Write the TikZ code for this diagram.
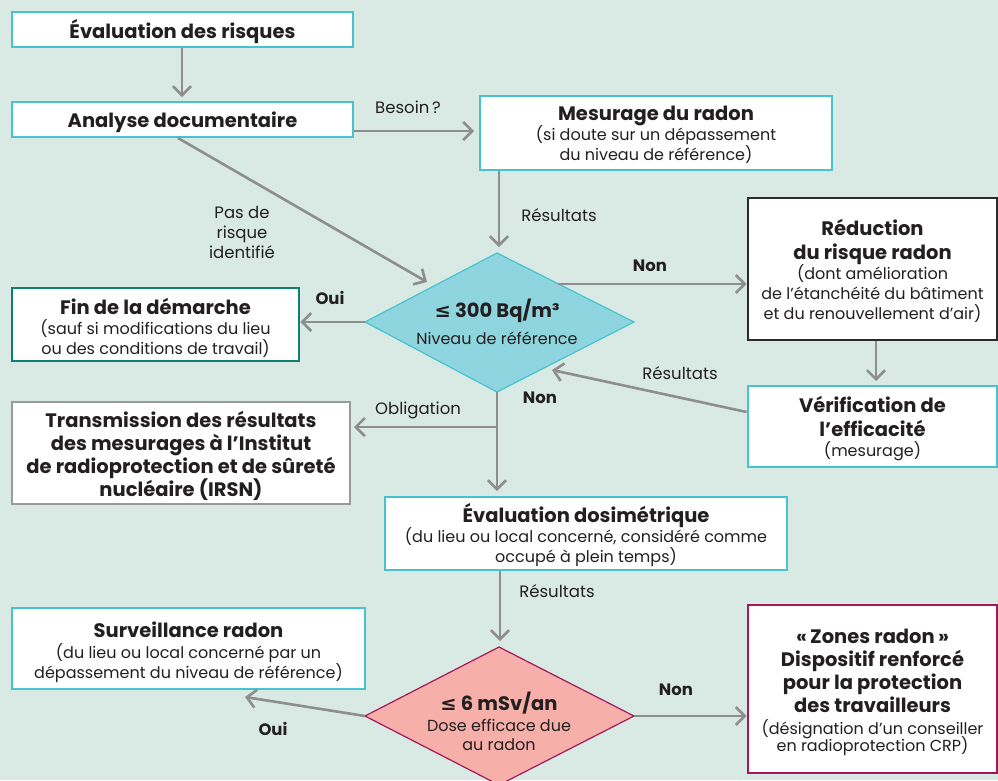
\documentclass[tikz,border=0pt]{standalone}
\usepackage{fontspec}
\setmainfont{Poppins}
\newfontfamily\symfont{DejaVu Sans}
\usetikzlibrary{arrows.meta}
\definecolor{bg}{HTML}{D9EAE4}
\definecolor{cyanb}{HTML}{45C4D0}
\definecolor{tealb}{HTML}{0E7F78}
\definecolor{grayb}{HTML}{9A9A9A}
\definecolor{blackb}{HTML}{2B2B2B}
\definecolor{magb}{HTML}{A3185C}
\definecolor{arr}{HTML}{8E8E8E}
\definecolor{txt}{HTML}{231F20}
\definecolor{dia1}{HTML}{8FD5DF}
\definecolor{dia2}{HTML}{F6AFA9}
\newcommand{\tb}[1]{{\fontsize{19.5}{20}\selectfont\bfseries #1}}
\newcommand{\tr}[1]{{\fontsize{16}{20}\selectfont #1}}
\newcommand{\tightlines}{\lineskiplimit=-30pt\relax\lineskip=0pt\relax}
\begin{document}
\begin{tikzpicture}[x=1pt,y=-1pt,
  box/.style={draw=#1,line width=2.8pt,fill=white,inner sep=0pt},
  boxtext/.style={inner sep=0pt,align=center,text=txt,font=\fontsize{16}{20}\selectfont\tightlines},
  conn/.style={draw=arr,line width=2.6pt,-{Straight Barb[length=9pt,width=18pt,line width=2.6pt]}},
  lab/.style={text=txt,font=\fontsize{16.5}{20}\selectfont,inner sep=0pt,align=center},
  blab/.style={text=txt,font=\fontsize{16.5}{20}\selectfont\bfseries,inner sep=0pt}]
\fill[bg] (0,0) rectangle (998,780);
\useasboundingbox (0,0) rectangle (998,780);
% boxes
\node[box=cyanb,minimum width=341pt,minimum height=35pt] (eval) at (182.5,29.5) {};
\node[boxtext] (evalt) at (182.5,32) {\tb{Évaluation des risques}};
\node[box=cyanb,minimum width=341pt,minimum height=35pt] (anal) at (182.5,119.5) {};
\node[boxtext] (analt) at (182.5,122) {\tb{Analyse documentaire}};
\node[box=cyanb,minimum width=352pt,minimum height=74pt] (mes) at (656,133) {};
\node[boxtext] (mest) at (656,135) {\tb{Mesurage du radon}\\\tr{(si doute sur un dépassement}\\\tr{du niveau de référence)}};
\node[box=blackb,minimum width=249pt,minimum height=142pt] (red) at (872.5,269) {};
\node[boxtext] (redt) at (872.5,271) {\tb{Réduction}\\[4pt]\tb{du risque radon}\\\tr{(dont amélioration}\\\tr{de l’étanchéité du bâtiment}\\\tr{et du renouvellement d’air)}};
\node[box=tealb,minimum width=287pt,minimum height=73pt] (fin) at (155.5,324.5) {};
\node[boxtext] (fint) at (155.5,327.5) {\tb{Fin de la démarche}\\\tr{(sauf si modifications du lieu}\\\tr{ou des conditions de travail)}};
\node[box=grayb,minimum width=338pt,minimum height=102pt] (trans) at (181,453) {};
\node[boxtext] (transt) at (181,455.5) {\tb{Transmission des résultats}\\[3pt]\tb{des mesurages à l’Institut}\\[3pt]\tb{de radioprotection et de sûreté}\\[3pt]\tb{nucléaire (IRSN)}};
\node[box=cyanb,minimum width=249pt,minimum height=81pt] (verif) at (872.5,426.5) {};
\node[boxtext] (verift) at (872.5,428.5) {\tb{Vérification de}\\[3.5pt]\tb{l’efficacité}\\\tr{(mesurage)}};
\node[box=cyanb,minimum width=402pt,minimum height=73pt] (dosi) at (586,533.5) {};
\node[boxtext] (dosit) at (586,535.5) {\tb{Évaluation dosimétrique}\\\tr{(du lieu ou local concerné, considéré comme}\\\tr{occupé à plein temps)}};
\node[box=cyanb,minimum width=353pt,minimum height=81pt] (surv) at (188.5,648.5) {};
\node[boxtext] (survt) at (188.5,652) {\tb{Surveillance radon}\\[1pt]\tr{(du lieu ou local concerné par un}\\\tr{dépassement du niveau de référence)}};
\node[box=magb,minimum width=249pt,minimum height=168pt] (zones) at (872.5,689) {};
\node[boxtext] (zonest) at (872.5,692.5) {\tb{«\,Zones radon\,»}\\[3pt]\tb{Dispositif renforcé}\\[3pt]\tb{pour la protection}\\[3pt]\tb{des travailleurs}\\[2pt]\tr{(désignation d’un conseiller}\\[-2.5pt]\tr{en radioprotection CRP)}};
% diamonds
\coordinate (d1t) at (497,253); \coordinate (d1l) at (365,322);
\coordinate (d1r) at (634,322); \coordinate (d1b) at (497,392);
\fill[dia1,draw=cyanb,line width=1.2pt] (d1t) -- (d1r) -- (d1b) -- (d1l) -- cycle;
\node[inner sep=0pt,text=txt] (d1a) at (497,311) {\tb{{\symfont ≤} 300 Bq/m³}};
\node[inner sep=0pt,text=txt] (d1c) at (497,338) {\tr{Niveau de référence}};
\coordinate (d2t) at (499,647); \coordinate (d2l) at (365,716);
\coordinate (d2r) at (634,716); \coordinate (d2b) at (499,785);
\fill[dia2,draw=magb,line width=1.2pt] (d2t) -- (d2r) -- (d2b) -- (d2l) -- cycle;
\node[inner sep=0pt,text=txt] (d2a) at (499,703) {\tb{{\symfont ≤} 6 mSv/an}};
\node[inner sep=0pt,text=txt,align=center,font=\fontsize{16}{19}\selectfont] (d2c) at (499,735) {Dose efficace due\\au radon};
% connectors
\draw[conn] (eval.south -| 182,0) -- (182,97);
\draw[conn] (anal.east |- 0,131) -- (474,131);
\node[lab] (besoin) at (408,107) {Besoin\,?};
\draw[conn] (178,138) -- (427,282);
\node[lab] (pas) at (242,232) {Pas de\\risque\\identifié};
\draw[conn] (mes.south -| 499,0) -- (499,247);
\node[lab] (res1) at (559,215) {Résultats};
\coordinate (d1n) at (558,284);
\draw[conn] (d1n) -- (red.west |- d1n);
\node[blab] (non1) at (650,266) {Non};
\draw[conn] (d1l) -- (fin.east |- d1l);
\node[blab] (oui1) at (330,298) {Oui};
\draw[conn] (red.south -| 876,0) -- (876,381);
\coordinate (vin) at (552,370);
\draw[conn] (verif.west |- 0,412) -- (vin);
\node[lab] (res2) at (680,373) {Résultats};
\draw[conn] (d1b) -- (497,491);
\node[blab] (non2) at (540,398) {Non};
\coordinate (br) at (497,427);
\draw[conn] (br) -- (354,427);
\node[lab] (obl) at (418,410) {Obligation};
\draw[conn] (dosi.south -| 500,0) -- (500,641);
\node[lab] (res3) at (557,591) {Résultats};
\coordinate (sin) at (245,697);
\draw[conn] (d2l) -- (sin);
\node[blab] (oui2) at (273,729) {Oui};
\draw[conn] (d2r) -- (zones.west |- d2r);
\node[blab] (non3) at (676,690) {Non};
\end{tikzpicture}
\end{document}
